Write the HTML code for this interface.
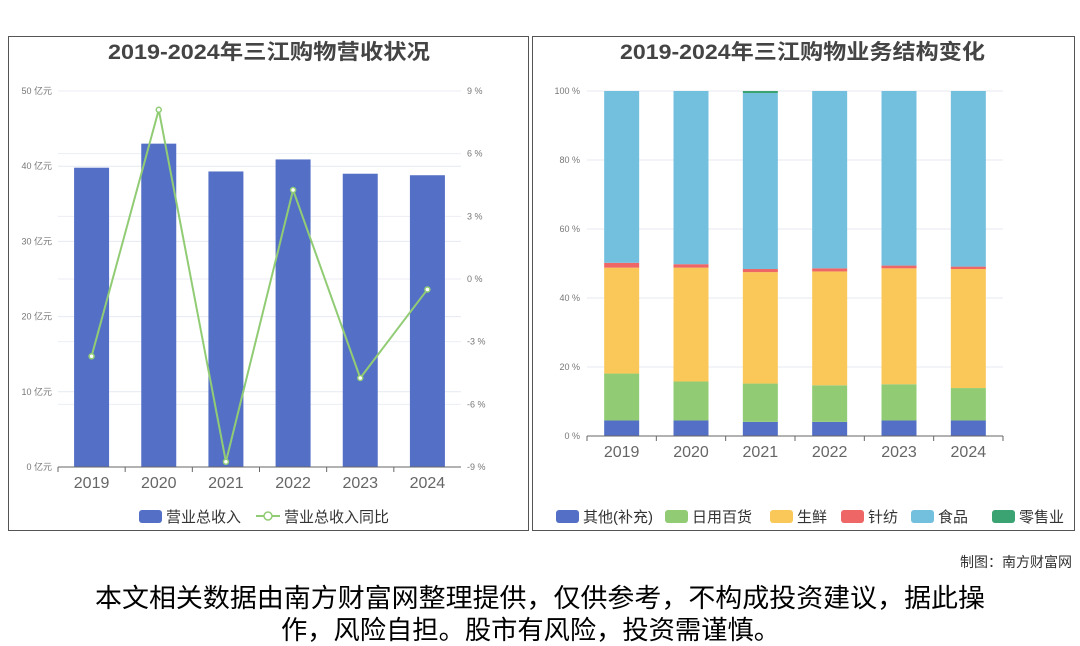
<!DOCTYPE html>
<html><head><meta charset="utf-8"><style>
body{margin:0;width:1080px;height:646px;background:#fff;font-family:"Liberation Sans","Noto Sans CJK SC",sans-serif;overflow:hidden;position:relative}
.panel{position:absolute;border:1px solid #555;box-sizing:border-box}
svg text{font-family:"Liberation Sans","Noto Sans CJK SC",sans-serif}
</style></head><body>
<div class="panel" style="left:8px;top:36px;width:521px;height:495px"></div>
<div class="panel" style="left:532px;top:36px;width:543px;height:495px"></div>
<svg id="s" width="1080" height="646" style="position:absolute;left:0;top:0">
<text x="108" y="59" textLength="322" lengthAdjust="spacingAndGlyphs" font-size="21" font-weight="bold" fill="#444">2019-2024年三江购物营收状况</text>
<text x="620" y="59" textLength="365" lengthAdjust="spacingAndGlyphs" font-size="21" font-weight="bold" fill="#444">2019-2024年三江购物业务结构变化</text>
<g id="L"></g><g id="R"></g>
<text x="1072" y="567" text-anchor="end" font-size="14" fill="#333">制图：南方财富网</text>
<text x="95" y="607" textLength="890" lengthAdjust="spacingAndGlyphs" font-size="26" fill="#000">本文相关数据由南方财富网整理提供，仅供参考，不构成投资建议，据此操</text>
<text x="281" y="639" textLength="499" lengthAdjust="spacingAndGlyphs" font-size="26" fill="#000">作，风险自担。股市有风险，投资需谨慎。</text>
</svg>
<script>
const years=["2019","2020","2021","2022","2023","2024"];
const revenue=[39.8,43.0,39.3,40.9,39.0,38.8];
const growth=[-3.7,8.1,-8.75,4.26,-4.74,-0.5];
const revTicks=[0,10,20,30,40,50];
const pctTicks=[-9,-6,-3,0,3,6,9];
const other=[4.5,4.5,4.1,4.1,4.5,4.5];
const daily=[13.6,11.3,11.1,10.6,10.5,9.4];
const fresh=[30.7,33.0,32.3,33.0,33.6,34.5];
const textile=[1.4,1.0,0.9,0.9,0.8,0.7];
const retail=[0,0,0.6,0,0,0];
const shareTicks=[0,20,40,60,80,100];
const NS="http://www.w3.org/2000/svg";
function mk(p,t,a,txt){const e=document.createElementNS(NS,t);for(const k in a)e.setAttribute(k,a[k]);if(txt!=null)e.textContent=txt;p.appendChild(e);return e;}
// left
const L=document.getElementById('L');
const lx0=58,lx1=461,ly0=467,ly1=91,cw=(lx1-lx0)/6;
const yL=v=>ly0-(v/50)*(ly0-ly1);
const yR=v=>ly0-((v+9)/18)*(ly0-ly1);
const xc=i=>lx0+cw*(i+0.5);
revTicks.forEach(t=>{let g=mk(L,'line',{x1:lx0,x2:lx1,y1:yL(t),y2:yL(t),stroke:'#e6e9f2'});
let e=mk(L,'text',{x:52,y:yL(t)+3,'text-anchor':'end','font-size':9,fill:'#777'},t+' 亿元');});
pctTicks.forEach(t=>{let g=mk(L,'line',{x1:lx0,x2:lx1,y1:yR(t),y2:yR(t),stroke:'#eceef5'});
let e=mk(L,'text',{x:467,y:yR(t)+3,'font-size':9,fill:'#777'},t+' %');});
revenue.forEach((v,i)=>{let r=mk(L,'rect',{x:xc(i)-17.5,y:yL(v),width:35,height:ly0-yL(v),fill:'#5470c6'});
let t=mk(L,'text',{x:xc(i),y:488,'text-anchor':'middle','font-size':16,fill:'#666'},years[i]);
let k=mk(L,'line',{x1:lx0+cw*i,x2:lx0+cw*i,y1:ly0,y2:ly0+5,stroke:'#666'});});
mk(L,'line',{x1:lx0,x2:lx1,y1:ly0,y2:ly0,stroke:'#666'});
let pl=mk(L,'polyline',{points:growth.map((v,i)=>xc(i)+','+yR(v)).join(' '),fill:'none',stroke:'#91cc75','stroke-width':2});

growth.forEach((v,i)=>{let c=mk(L,'circle',{cx:xc(i),cy:yR(v),r:2.5,fill:'#fff',stroke:'#91cc75','stroke-width':1.5});});
// left legend
let lg=mk(L,'g',{});
mk(lg,'rect',{x:139,y:510,width:23,height:13,rx:3,fill:'#5470c6'});
mk(lg,'text',{x:166,y:522,'font-size':15,fill:'#333'},'营业总收入');
mk(lg,'line',{x1:256,x2:280,y1:516,y2:516,stroke:'#91cc75','stroke-width':2});
mk(lg,'circle',{cx:268,cy:516,r:4,fill:'#fff',stroke:'#91cc75','stroke-width':1.5});
mk(lg,'text',{x:284,y:522,'font-size':15,fill:'#333'},'营业总收入同比');
// right
const R=document.getElementById('R');
const rx0=587,rx1=1003,ry0=436,ry1=91,rcw=(rx1-rx0)/6;
const yS=v=>ry0-(v/100)*(ry0-ry1);
const rxc=i=>rx0+rcw*(i+0.5);
shareTicks.forEach(t=>{let g=mk(R,'line',{x1:rx0,x2:rx1,y1:yS(t),y2:yS(t),stroke:'#e6e9f2'});
let e=mk(R,'text',{x:580,y:yS(t)+3,'text-anchor':'end','font-size':9,fill:'#777'},t+' %');});
const colors=['#5470c6','#91cc75','#fac858','#ee6666','#73c0de','#3ba272'];
const names=['其他(补充)','日用百货','生鲜','针纺','食品','零售业'];
years.forEach((y,i)=>{const food=100-other[i]-daily[i]-fresh[i]-textile[i]-retail[i];
const vals=[other[i],daily[i],fresh[i],textile[i],food,retail[i]];let acc=0;
vals.forEach((v,j)=>{if(v<=0)return;let r=mk(R,'rect',{x:rxc(i)-17.5,y:yS(acc+v),width:35,height:yS(acc)-yS(acc+v),fill:colors[j]});acc+=v;});
let t=mk(R,'text',{x:rxc(i),y:457,'text-anchor':'middle','font-size':16,fill:'#666'},y);
let k=mk(R,'line',{x1:rx0+rcw*i,x2:rx0+rcw*i,y1:ry0,y2:ry0+5,stroke:'#666'});});
mk(R,'line',{x1:rx1,x2:rx1,y1:ry0,y2:ry0+5,stroke:'#666'});
mk(R,'line',{x1:rx0,x2:rx1,y1:ry0,y2:ry0,stroke:'#666'});
let rg=mk(R,'g',{});
const lxs=[556,665,770,841,911,992];
names.forEach((n,j)=>{mk(rg,'rect',{x:lxs[j],y:510,width:23,height:13,rx:3,fill:colors[j]});mk(rg,'text',{x:lxs[j]+27,y:522,'font-size':15,fill:'#333'},n);});
</script>
</body></html>
